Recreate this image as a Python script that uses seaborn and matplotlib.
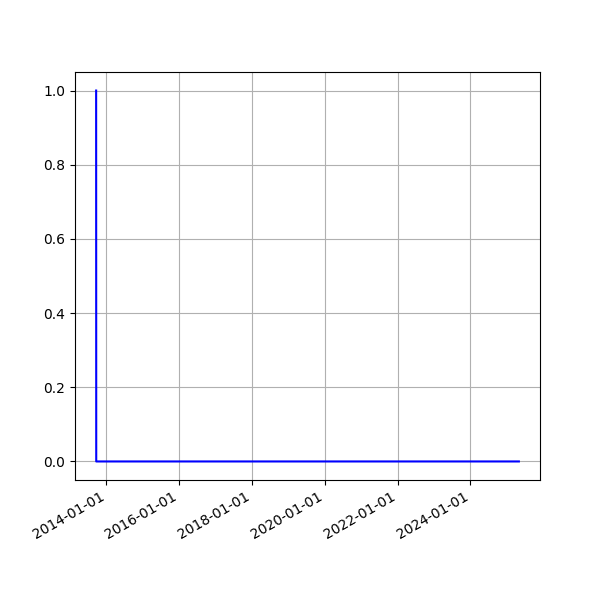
import matplotlib
matplotlib.use("Agg")
import matplotlib.pyplot as plt
import matplotlib.dates as mdates
import seaborn as sns
import pandas as pd

dates = ["2013-09-20", "2013-09-21", "2025-05-01"]
values = [1.0, 0.0, 0.0]

df = pd.DataFrame({"date": pd.to_datetime(dates), "value": values})

fig, ax = plt.subplots(figsize=(6, 6), dpi=100)
sns.lineplot(data=df, x="date", y="value", ax=ax, color="blue", linewidth=1.5)
ax.set_xlabel("")
ax.set_ylabel("")
ax.grid(True)
ax.xaxis.set_major_locator(mdates.YearLocator(2))
ax.xaxis.set_major_formatter(mdates.DateFormatter("%Y-%m-%d"))
fig.autofmt_xdate()
fig.savefig("out.png", dpi=100)
